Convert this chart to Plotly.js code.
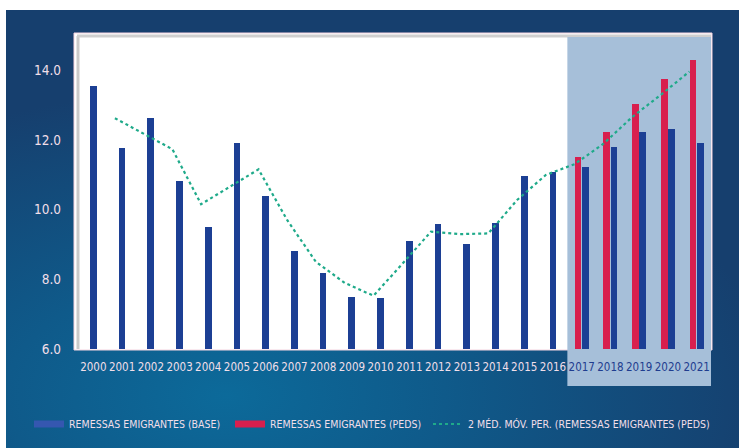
<!DOCTYPE html>
<html><head><meta charset="utf-8">
<script src="https://cdn.plot.ly/plotly-3.0.1.min.js"></script>
<style>
html,body{margin:0;padding:0;background:#ffffff;overflow:hidden;}
#bg{position:absolute;left:6px;top:10px;width:733px;height:438px;
background:radial-gradient(ellipse 75% 70% at 30% 88%, #0c6a9a 0%, #0f5a8a 40%, #163f6e 100%);}
#chart{position:absolute;left:0;top:0;width:739px;height:448px;}
</style></head><body><div id="bg"></div><div id="chart"></div>
<script>
// ---- data ----
const years = ['2000','2001','2002','2003','2004','2005','2006','2007','2008','2009','2010',
  '2011','2012','2013','2014','2015','2016','2017','2018','2019','2020','2021'];
const baseValues = [13.55,11.76,12.64,10.83,9.50,11.91,10.40,8.82,8.19,7.50,7.47,
  9.10,9.59,9.02,9.61,10.98,11.09,11.24,11.81,12.23,12.31,11.91];
const pedsYears = ['2017','2018','2019','2020','2021'];
const pedsValues = [11.52,12.22,13.03,13.75,14.30];
const maYears = ['2001','2002','2003','2004','2005','2006','2007','2008','2009','2010',
  '2011','2012','2013','2014','2015','2016','2017','2018','2019','2020','2021'];
const maValues = [12.63,12.19,11.74,10.16,10.66,11.16,9.70,8.50,7.90,7.53,
  8.44,9.37,9.30,9.32,10.28,11.00,11.31,11.89,12.66,13.30,13.97];
const yTickValues = [6,8,10,12,14];
const seriesNames = ['REMESSAS EMIGRANTES (BASE)','REMESSAS EMIGRANTES (PEDS)',
  '2 MÉD. MÓV. PER. (REMESSAS EMIGRANTES (PEDS)'];
const projectionStart = '2017';

// ---- styling / geometry ----
const W = 739, H = 448, L = 79, R = 28, T = 34, B = 99;
const PW = W - L - R, PH = H - T - B;
const px = x => (x - L) / PW;
const py = y => (H - B - y) / PH;
const FONT = '"DejaVu Sans Condensed", Roboto, sans-serif';
const BLUE = '#1c3f94', RED = '#d81f4e', GREEN = '#1faa8a', LABEL = '#f1dfe9';
const projIdx = years.indexOf(projectionStart);
const nCat = years.length;

const baseOffset = years.map((y, i) => i >= projIdx ? 0.005 : -0.12);
const baseWidth = years.map(() => 0.235);

const tickText = years.map((y, i) => i >= projIdx ? '<span style="color:#1f3d8f">' + y + '</span>' : y);

const traces = [
  {type:'bar', x: years, y: baseValues, offset: baseOffset, width: baseWidth,
   marker:{color: BLUE, line:{width:0}}, showlegend:false, name: seriesNames[0]},
  {type:'bar', x: pedsYears, y: pedsValues, offset: -0.245, width: 0.235,
   marker:{color: RED, line:{width:0}}, showlegend:false, name: seriesNames[1]},
  {type:'scatter', mode:'lines', x: maYears, y: maValues, xaxis:'x2',
   line:{color: GREEN, width:2.2, dash:'dot'}, showlegend:false, name: seriesNames[2]},
  // legend entries
  {type:'scatter', mode:'lines', x:[null], y:[null], name: seriesNames[0],
   line:{color:'#3557b0', width:7}, legend:'legend'},
  {type:'scatter', mode:'lines', x:[null], y:[null], name: seriesNames[1],
   line:{color: RED, width:7}, legend:'legend2'},
  {type:'scatter', mode:'lines', x:[null], y:[null], name: seriesNames[2],
   line:{color: GREEN, width:2.2, dash:'dot'}, legend:'legend3'}
];

const legendBase = {orientation:'h', xref:'container', yref:'container', yanchor:'middle',
  xanchor:'left', y: 1 - 424 / H, bgcolor:'rgba(0,0,0,0)', borderwidth:0,
  font:{family: FONT, size:10.5, color: LABEL}};

const layout = {
  width: W, height: H,
  margin:{l:L, r:R, t:T, b:B, pad:0},
  paper_bgcolor:'rgba(0,0,0,0)', plot_bgcolor:'rgba(0,0,0,0)',
  barmode:'overlay', bargap:0,
  showlegend:true,
  legend: Object.assign({}, legendBase, {x: 29 / W}),
  legend2: Object.assign({}, legendBase, {x: 230 / W}),
  legend3: Object.assign({}, legendBase, {x: 428 / W}),
  xaxis:{type:'category', categoryorder:'array', categoryarray: years,
    range:[-0.5, nCat - 0.5], tickvals: years, ticktext: tickText,
    showgrid:false, zeroline:false, showline:false, ticks:'',
    ticklabelstandoff: 9, tickangle:0,
    tickfont:{family: FONT, size:11.5, color: LABEL}, fixedrange:true},
  xaxis2:{type:'category', categoryorder:'array', categoryarray: years,
    range:[-0.25, nCat - 0.25], overlaying:'x', visible:false, fixedrange:true},
  yaxis:{range:[6, 6 + PH / 34.81], tickvals: yTickValues, tickformat:'.1f',
    showgrid:false, zeroline:false, showline:false, ticks:'',
    ticklabelstandoff: 17,
    tickfont:{family: FONT, size:13.5, color: LABEL}, fixedrange:true},
  shapes:[
    {type:'rect', xref:'paper', yref:'paper', x0: px(74), x1: px(712), y0: py(350), y1: py(33),
     fillcolor:'#ffffff', line:{color:'#f3d3df', width:1}, layer:'below'},
    {type:'line', xref:'paper', yref:'paper', x0: px(78), x1: px(78), y0: py(349), y1: py(36),
     line:{color:'#c9c9c9', width:3}, layer:'below'},
    {type:'line', xref:'paper', yref:'paper', x0: px(77), x1: px(711), y0: py(36), y1: py(36),
     line:{color:'#cfcfcf', width:3}, layer:'below'},
    {type:'rect', xref:'paper', yref:'paper', x0: projIdx / nCat, x1: 1,
     y0: py(386), y1: py(37), fillcolor:'#a6bfd9', line:{width:0}, layer:'below'}
  ]
};

Plotly.newPlot('chart', traces, layout, {displayModeBar:false, staticPlot:true});
</script></body></html>
